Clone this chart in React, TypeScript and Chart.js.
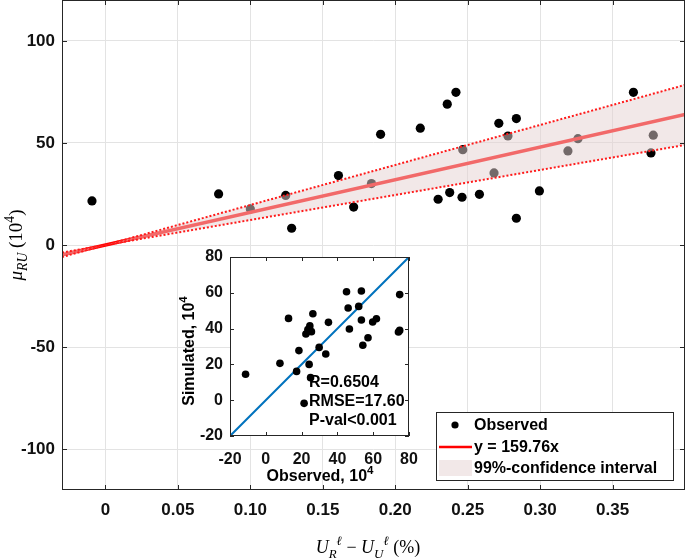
import React, { useEffect, useRef } from "react";
import { Chart, registerables } from "chart.js";
Chart.register(...registerables);

// ---- main chart data ----
const obsX = [-0.0093, 0.0781, 0.100, 0.1244, 0.1285, 0.1608, 0.1713, 0.1836, 0.1899, 0.2173, 0.2296, 0.2359, 0.2376, 0.2419, 0.2461, 0.2466, 0.2581, 0.2682, 0.2715, 0.2778, 0.2836, 0.2836, 0.2995, 0.3192, 0.3261, 0.3644, 0.3765, 0.3781];
const obsY = [21.6, 25.0, 17.6, 24.3, 8.2, 34.0, 18.6, 30.1, 54.2, 57.2, 22.4, 69.0, 25.7, 74.8, 23.4, 46.7, 24.8, 35.3, 59.6, 53.4, 61.9, 13.1, 26.5, 46.1, 52.1, 74.8, 45.1, 53.8];
const fitX = [-0.03, 0.40];
const fitY = [-4.79, 63.9];
const ciX = [-0.03, 0, 0.40];
const ciUpper = [-3.7, 0, 78.4];
const ciLower = [-5.9, 0, 49.0];
const xTicks = [0, 0.05, 0.1, 0.15, 0.2, 0.25, 0.3, 0.35];
const xTickLabels = ["0", "0.05", "0.10", "0.15", "0.20", "0.25", "0.30", "0.35"];
const yTicks = [-100, -50, 0, 50, 100];
const legendLabels = ["Observed", "y = 159.76x", "99%-confidence interval"];

// ---- inset data ----
const insetObserved = [-11.3, 7.9, 12.7, 17.2, 18.5, 21.4, 22.4, 23.5, 24.2, 24.6, 25.0, 25.5, 26.3, 29.8, 33.5, 35.0, 45.1, 46.0, 46.7, 51.9, 53.4, 53.4, 54.2, 57.1, 59.7, 61.8, 74.1, 74.8, 74.8];
const insetSimulated = [14.5, 20.6, 45.7, 16.1, 27.7, -1.75, 37.0, 39.4, 20.0, 41.5, 12.6, 38.3, 48.3, 29.5, 25.8, 43.5, 60.6, 51.5, 39.8, 52.4, 61.0, 44.8, 30.7, 34.9, 43.7, 45.5, 38.1, 59.0, 39.0];
const diagX = [-20, 80];
const diagY = [-20, 80];
const insetTicks = [-20, 0, 20, 40, 60, 80];
const statLines = ["R=0.6504", "RMSE=17.60", "P-val<0.001"];

const SANS = "'Liberation Sans', Arial, Helvetica, sans-serif";
const SERIF = "'Liberation Serif', 'DejaVu Serif', serif";
const AXIS = "#262626";
const BAND = "rgba(230,210,210,0.5)";

type Part = { t: string; italic?: boolean; bold?: boolean; pos?: "base" | "sub" | "sup" };

function drawRich(ctx: CanvasRenderingContext2D, parts: Part[], cx: number, baseline: number, size: number, family: string) {
  const items = parts.map((p) => {
    const pos = p.pos || "base";
    const s = pos === "base" ? size : size * 0.72;
    const font = `${p.italic ? "italic " : ""}${p.bold ? "bold " : ""}${s}px ${family}`;
    ctx.font = font;
    const w = ctx.measureText(p.t).width;
    const dy = pos === "sub" ? size * 0.28 : pos === "sup" ? -size * 0.42 : 0;
    return { t: p.t, font, w, dy };
  });
  const total = items.reduce((a, b) => a + b.w, 0);
  let x = cx - total / 2;
  ctx.textAlign = "left";
  ctx.textBaseline = "alphabetic";
  for (const it of items) {
    ctx.font = it.font;
    ctx.fillText(it.t, x, baseline + it.dy);
    x += it.w;
  }
}

function drawBoxAndTicks(chart: any, len: number) {
  const { ctx, chartArea: a } = chart;
  const xs = chart.scales.x;
  const ys = chart.scales.y;
  ctx.save();
  ctx.strokeStyle = AXIS;
  ctx.lineWidth = 1;
  ctx.beginPath();
  for (const t of xs.ticks) {
    const px = Math.round(xs.getPixelForValue(t.value)) + 0.5;
    ctx.moveTo(px, a.bottom);
    ctx.lineTo(px, a.bottom - len);
    ctx.moveTo(px, a.top);
    ctx.lineTo(px, a.top + len);
  }
  for (const t of ys.ticks) {
    const py = Math.round(ys.getPixelForValue(t.value)) + 0.5;
    ctx.moveTo(a.left, py);
    ctx.lineTo(a.left + len, py);
    ctx.moveTo(a.right, py);
    ctx.lineTo(a.right - len, py);
  }
  ctx.stroke();
  ctx.strokeRect(Math.round(a.left) + 0.5, Math.round(a.top) + 0.5, Math.round(a.right - a.left) - 1, Math.round(a.bottom - a.top) - 1);
  ctx.restore();
}

const mainPlugin = {
  id: "mainDecor",
  beforeDraw(chart: any) {
    const { ctx, width, height } = chart;
    ctx.save();
    ctx.fillStyle = "#fff";
    ctx.fillRect(0, 0, width, height);
    ctx.restore();
  },
  afterDraw(chart: any) {
    const { ctx } = chart;
    drawBoxAndTicks(chart, 5);
    ctx.save();
    ctx.fillStyle = "#000";
    // x-axis title
    drawRich(
      ctx,
      [
        { t: "U", italic: true },
        { t: "R", italic: true, pos: "sub" },
        { t: "ℓ", italic: true, pos: "sup" },
        { t: " − " },
        { t: "U", italic: true },
        { t: "U", italic: true, pos: "sub" },
        { t: "ℓ", italic: true, pos: "sup" },
        { t: " (%)" },
      ],
      368,
      553,
      18,
      SERIF
    );
    // y-axis title
    ctx.save();
    ctx.translate(16, 245);
    ctx.rotate(-Math.PI / 2);
    drawRich(
      ctx,
      [
        { t: "μ", italic: true },
        { t: "RU", italic: true, pos: "sub" },
        { t: " (10" },
        { t: "4", pos: "sup" },
        { t: ")" },
      ],
      0,
      6,
      19,
      SERIF
    );
    ctx.restore();

    // legend
    const lx = 436.5, ly = 412.5, lw = 237, lh = 68;
    ctx.fillStyle = "#fff";
    ctx.fillRect(lx, ly, lw, lh);
    ctx.strokeStyle = AXIS;
    ctx.lineWidth = 1;
    ctx.strokeRect(lx, ly, lw, lh);
    const rows = [425, 447, 468];
    ctx.fillStyle = "#000";
    ctx.beginPath();
    ctx.arc(455, rows[0], 3.6, 0, Math.PI * 2);
    ctx.fill();
    ctx.strokeStyle = "#ff0000";
    ctx.lineWidth = 2.5;
    ctx.beginPath();
    ctx.moveTo(439, rows[1]);
    ctx.lineTo(472, rows[1]);
    ctx.stroke();
    ctx.fillStyle = BAND;
    ctx.fillRect(439, rows[2] - 8, 33, 16);
    ctx.fillStyle = "#000";
    ctx.font = `bold 16px ${SANS}`;
    ctx.textAlign = "left";
    ctx.textBaseline = "middle";
    legendLabels.forEach((l, i) => ctx.fillText(l, 474, rows[i] + 1));
    ctx.restore();
  },
};

const insetPlugin = {
  id: "insetDecor",
  beforeDraw(chart: any) {
    const { ctx, chartArea: a } = chart;
    ctx.save();
    ctx.fillStyle = "#fff";
    ctx.fillRect(a.left, a.top, a.right - a.left, a.bottom - a.top);
    ctx.restore();
  },
  afterDraw(chart: any) {
    const { ctx } = chart;
    drawBoxAndTicks(chart, 4);
    ctx.save();
    ctx.fillStyle = "#000";
    ctx.font = `bold 16px ${SANS}`;
    ctx.textAlign = "left";
    ctx.textBaseline = "middle";
    statLines.forEach((s, i) => ctx.fillText(s, 139, 138 + i * 19));
    drawRich(ctx, [{ t: "Observed, 10", bold: true }, { t: "4", bold: true, pos: "sup" }], 150, 236, 16, SANS);
    ctx.save();
    ctx.translate(18, 106);
    ctx.rotate(-Math.PI / 2);
    drawRich(ctx, [{ t: "Simulated, 10", bold: true }, { t: "4", bold: true, pos: "sup" }], 0, 6, 16, SANS);
    ctx.restore();
    ctx.restore();
  },
};

export default function App() {
  const mainRef = useRef<HTMLCanvasElement>(null);
  const insetRef = useRef<HTMLCanvasElement>(null);

  useEffect(() => {
    const tickFont = { family: SANS, size: 17, weight: "bold" as const };
    const main = new Chart(mainRef.current!, {
      type: "line",
      data: {
        datasets: [
          {
            label: "ci-a",
            data: ciX.map((x, i) => ({ x, y: ciUpper[i] })),
            borderColor: "#ff1a1a",
            borderWidth: 2,
            borderDash: [2, 2],
            pointRadius: 0,
            fill: false,
          },
          {
            label: "ci-b",
            data: ciX.map((x, i) => ({ x, y: ciLower[i] })),
            borderColor: "#ff1a1a",
            borderWidth: 2,
            borderDash: [2, 2],
            pointRadius: 0,
            fill: "-1",
            backgroundColor: BAND,
          },
          {
            label: "fit",
            data: fitX.map((x, i) => ({ x, y: fitY[i] })),
            borderColor: "#ff0000",
            borderWidth: 3.5,
            pointRadius: 0,
            fill: false,
          },
          {
            label: "Observed",
            data: obsX.map((x, i) => ({ x, y: obsY[i] })),
            showLine: false,
            pointRadius: 4.6,
            pointBackgroundColor: "#000",
            pointBorderWidth: 0,
            fill: false,
          },
        ],
      },
      options: {
        animation: false,
        responsive: false,
        events: [],
        layout: { padding: 0, autoPadding: false },
        plugins: { legend: { display: false }, tooltip: { enabled: false } },
        scales: {
          x: {
            type: "linear",
            min: -0.03,
            max: 0.4,
            afterBuildTicks: (s: any) => {
              s.ticks = xTicks.map((v) => ({ value: v }));
            },
            afterFit: (s: any) => {
              s.height = 70;
              s.paddingLeft = 0;
              s.paddingRight = 0;
            },
            ticks: {
              font: tickFont,
              color: "#111",
              padding: 10,
              maxRotation: 0,
              autoSkip: false,
              callback: (_v: any, i: number) => xTickLabels[i],
            },
            grid: { color: "#e3e3e3", drawTicks: false },
            border: { display: false },
          },
          y: {
            type: "linear",
            min: -120,
            max: 120,
            afterBuildTicks: (s: any) => {
              s.ticks = yTicks.map((v) => ({ value: v }));
            },
            afterFit: (s: any) => {
              s.width = 62;
              s.paddingTop = 0;
              s.paddingBottom = 0;
            },
            ticks: { font: tickFont, color: "#111", padding: 7, callback: (v: any) => String(v) },
            grid: { color: "#e3e3e3", drawTicks: false },
            border: { display: false },
          },
        },
      },
      plugins: [mainPlugin],
    });

    const insetFont = { family: SANS, size: 16, weight: "bold" as const };
    const inset = new Chart(insetRef.current!, {
      type: "line",
      data: {
        datasets: [
          {
            label: "Simulated",
            data: insetObserved.map((x, i) => ({ x, y: insetSimulated[i] })),
            showLine: false,
            pointRadius: 3.8,
            pointBackgroundColor: "#000",
            pointBorderWidth: 0,
          },
          {
            label: "1:1",
            data: diagX.map((x, i) => ({ x, y: diagY[i] })),
            borderColor: "rgb(0,114,189)",
            borderWidth: 2,
            pointRadius: 0,
          },
        ],
      },
      options: {
        animation: false,
        responsive: false,
        events: [],
        layout: { padding: { left: 0, right: 11, top: 12, bottom: 0 }, autoPadding: false },
        plugins: { legend: { display: false }, tooltip: { enabled: false } },
        scales: {
          x: {
            type: "linear",
            min: -20,
            max: 80,
            afterBuildTicks: (s: any) => {
              s.ticks = insetTicks.map((v) => ({ value: v }));
            },
            afterFit: (s: any) => {
              s.height = 59;
              s.paddingLeft = 0;
              s.paddingRight = 0;
            },
            ticks: { font: insetFont, color: "#111", padding: 14, maxRotation: 0, autoSkip: false, callback: (v: any) => String(v) },
            grid: { display: false, drawTicks: false },
            border: { display: false },
          },
          y: {
            type: "linear",
            min: -20,
            max: 80,
            afterBuildTicks: (s: any) => {
              s.ticks = insetTicks.map((v) => ({ value: v }));
            },
            afterFit: (s: any) => {
              s.width = 60;
              s.paddingTop = 0;
              s.paddingBottom = 0;
            },
            ticks: { font: insetFont, color: "#111", padding: 7, callback: (v: any) => String(v) },
            grid: { display: false, drawTicks: false },
            border: { display: false },
          },
        },
      },
      plugins: [insetPlugin],
    });

    return () => {
      main.destroy();
      inset.destroy();
    };
  }, []);

  return (
    <div style={{ position: "fixed", left: 0, top: 0, width: 685, height: 560, background: "#fff", overflow: "hidden" }}>
      <canvas ref={mainRef} width={685} height={560} style={{ position: "absolute", left: 0, top: 0, display: "block" }} />
      <canvas ref={insetRef} width={250} height={250} style={{ position: "absolute", left: 170, top: 245, display: "block" }} />
    </div>
  );
}
